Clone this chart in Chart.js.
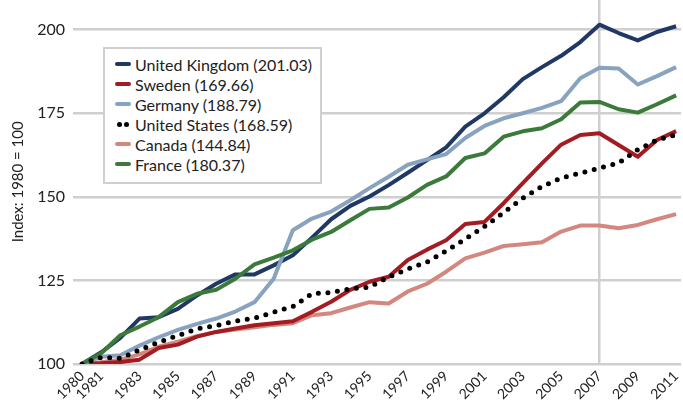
<!DOCTYPE html>
<html><head><meta charset="utf-8">
<script src="https://cdn.jsdelivr.net/npm/chart.js@4.4.1/dist/chart.umd.min.js"></script>
<style>
html,body{margin:0;padding:0;background:#fff;}
#wrap{position:relative;width:683px;height:405px;overflow:hidden;}
#c{position:absolute;left:0;top:-18px;}
#legend{position:absolute;left:103px;top:47px;width:215px;height:128px;padding-top:5px;border:2px solid #cfcfcf;background:#fff;font-family:Lato,"Noto Sans",sans-serif;font-size:16px;color:#222;}
.row{height:20px;display:flex;align-items:center;}
.sw{width:16px;height:0;margin-left:10px;margin-right:4px;border-top:4px solid;border-radius:2px;}
.dots{width:16px;margin-left:10px;margin-right:4px;display:flex;justify-content:space-between;padding:0 2px;box-sizing:border-box;}
.dots span{width:5px;height:5px;border-radius:50%;background:#000;}
</style></head>
<body><div id="wrap"><canvas id="c" width="692" height="423"></canvas><div id="legend"></div></div>
<script>
const years = [1980,1981,1982,1983,1984,1985,1986,1987,1988,1989,1990,1991,1992,1993,1994,1995,1996,1997,1998,1999,2000,2001,2002,2003,2004,2005,2006,2007,2008,2009,2010,2011];
const seriesNames = ["United Kingdom","Sweden","Germany","United States","Canada","France"];
const unitedKingdom = [100,103.5,107.8,113.6,114,116.5,120.5,124,126.8,126.8,129.5,132.5,137.8,143.3,147.3,150.1,153.5,157.2,161,164.8,171,175,179.8,185.2,188.8,192.2,196.3,201.5,199,196.8,199.3,201.03];
const sweden = [100,100.2,100.6,101.3,104.8,105.8,108.2,109.6,110.6,111.6,112.2,112.8,115.6,118.6,122.2,124.6,126.1,131.1,134.2,137,141.9,142.5,148.1,154.1,160,165.6,168.5,169,165.5,162,167,169.66];
const germany = [100,102.2,102.6,105.5,108,110.2,112,113.6,115.7,118.5,125.5,140,143.5,145.6,149,152.6,156,159.6,161.2,162.8,167.6,171.2,173.5,175,176.6,178.6,185.5,188.6,188.4,183.6,186.1,188.79];
const unitedStates = [100,102,101.7,104.2,106.5,108.5,110.5,111.5,112.8,113.7,115.5,117.2,121,121.4,122.5,123,126,128.4,130.5,133.8,137.4,141.1,145.3,149.6,153.1,155.6,157.1,158.6,160.1,164.1,167,168.59];
const canada = [100,100.5,101.3,102.9,105.2,106.7,108.3,109.6,110.3,111,111.7,112.2,114.6,115.2,116.9,118.5,118.1,121.7,124,127.6,131.6,133.3,135.3,135.8,136.4,139.6,141.4,141.4,140.6,141.6,143.3,144.84];
const france = [100,103.2,108.6,111.2,114,118.5,121,122.2,125.5,129.8,131.8,134,137.2,139.5,143,146.4,146.8,149.8,153.6,156.1,161.6,163,168,169.6,170.5,173.2,178.2,178.4,176.2,175.2,177.7,180.37];
const yTicks = [100,125,150,175,200];
const markerYear = 2007;

const values = [unitedKingdom, sweden, germany, unitedStates, canada, france];
const colors = ["#1f3864","#a31c22","#87a3bf","#000000","#d4877f","#3b7a3a"];
const drawOrder = [4,3,2,0,5,1];

const datasets = seriesNames.map((n,i)=>({
  label: n,
  data: years.map((y,k)=>({x:y, y:values[i][k]})),
  borderColor: colors[i],
  backgroundColor: colors[i],
  borderWidth: i===3 ? 5 : 4,
  borderDash: i===3 ? [0,9.6] : [],
  borderCapStyle: i===3 ? 'round' : 'butt',
  borderJoinStyle: 'round',
  pointRadius: 0,
  tension: 0,
  order: drawOrder[i]
}));

const leg = document.getElementById('legend');
seriesNames.forEach((n,i)=>{
  const last = values[i][values[i].length-1];
  const row = document.createElement('div'); row.className='row';
  if(i===3){ row.innerHTML = '<div class="dots"><span></span><span></span></div>'; }
  else { row.innerHTML = '<div class="sw" style="border-color:'+colors[i]+'"></div>'; }
  const t = document.createElement('span'); t.textContent = n+' ('+last.toFixed(2)+')';
  row.appendChild(t); leg.appendChild(row);
});

new Chart(document.getElementById('c'), {
  type: 'line',
  data: { datasets },
  options: {
    responsive:false, animation:false,
    layout:{padding:0},
    plugins:{legend:{display:false}, tooltip:{enabled:false}},
    scales:{
      x:{
        type:'linear', min:1979.53, max:2011.26,
        afterBuildTicks:(s)=>{ s.ticks = years.map(v=>({value:v})); },
        afterFit:(s)=>{ s.height = 41; },
        border:{display:false},
        grid:{
          drawTicks:false, lineWidth:2.5,
          color:(c)=> (c.tick && c.tick.value===markerYear) ? '#cfcfcf' : 'rgba(0,0,0,0)'
        },
        ticks:{
          autoSkip:false, maxRotation:45, minRotation:45, padding:4,
          font:{family:'Lato, "Noto Sans", sans-serif', size:14}, color:'#222',
          callback:(v)=> (v===1980 || v%2===1) ? String(v) : ''
        }
      },
      y:{
        min:100, max:209,
        afterBuildTicks:(s)=>{ s.ticks = yTicks.map(v=>({value:v})); },
        afterFit:(s)=>{ s.width = 73; },
        border:{display:false},
        grid:{color:'#cfcfcf', lineWidth:2.5, drawTicks:false},
        ticks:{padding:8, font:{family:'Lato, "Noto Sans", sans-serif', size:16}, color:'#222'},
        title:{display:true, text:'Index: 1980 = 100', padding:{top:9,bottom:0}, font:{family:'Lato, "Noto Sans", sans-serif', size:15}, color:'#222'}
      }
    }
  }
});
</script></body></html>
